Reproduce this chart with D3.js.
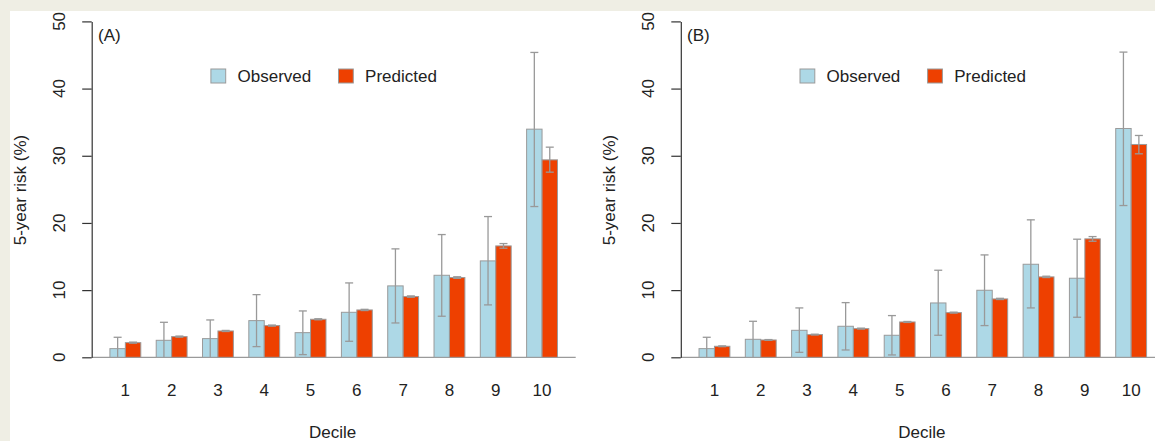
<!DOCTYPE html>
<html>
<head>
<meta charset="utf-8">
<script src="https://cdn.jsdelivr.net/npm/d3@7"></script>
<style>
  body{margin:0;background:#efeee4;}
  svg{display:block;font-family:"Liberation Sans",Arial,sans-serif;}
</style>
</head>
<body>
<svg id="chart" width="1155" height="441"></svg>
<script>
// deciles and risk values (%)
var deciles = ["1","2","3","4","5","6","7","8","9","10"];
var yTicks = [0,10,20,30,40,50];

var obsA   = [1.29,2.53,2.78,5.46,3.67,6.70,10.63,12.21,14.35,33.96];
var obsLoA = [0,0,0,1.59,0.40,2.38,5.11,6.11,7.80,22.44];
var obsHiA = [2.98,5.21,5.56,9.33,6.90,11.07,16.14,18.27,20.95,45.38];
var predA   = [2.18,3.08,3.92,4.72,5.66,7.05,9.04,11.87,16.58,29.39];
var predLoA = [2.10,3.00,3.84,4.64,5.58,6.96,8.94,11.75,16.24,27.56];
var predHiA = [2.26,3.16,4.00,4.80,5.74,7.14,9.14,11.99,16.93,31.28];

var obsB   = [1.29,2.68,4.02,4.62,3.28,8.09,9.98,13.85,11.77,34.06];
var obsLoB = [0,0,0.74,1.09,0.35,3.28,4.72,7.35,5.96,22.59];
var obsHiB = [2.98,5.36,7.35,8.14,6.21,12.96,15.24,20.46,17.58,45.43];
var predB   = [1.64,2.58,3.38,4.27,5.26,6.65,8.69,11.97,17.63,31.68];
var predLoB = [1.58,2.52,3.32,4.20,5.19,6.58,8.60,11.87,17.28,30.29];
var predHiB = [1.70,2.64,3.44,4.34,5.33,6.72,8.78,12.07,17.97,33.02];

var series = ["Observed","Predicted"];
var colors = {Observed:"#add8e6", Predicted:"#ee4000"};

var svg = d3.select("#chart");
svg.append("rect").attr("x",10).attr("y",11).attr("width",1145).attr("height",430).attr("fill","#fff");

var y = d3.scaleLinear().domain([0,50]).range([357.3,21.4]);

function drawPanel(axisX, label, obs, obsLo, obsHi, pred, predLo, predHi){
  var g = svg.append("g");
  var x = d3.scaleBand().domain(deciles).range([axisX+10.5, axisX+473.5])
    .paddingInner(1/3).paddingOuter(1/6);
  var xs = d3.scaleBand().domain(series).range([0, x.bandwidth()]);

  var rows = deciles.map(function(d,i){
    return [
      {dec:d, s:"Observed", v:obs[i], lo:obsLo[i], hi:obsHi[i]},
      {dec:d, s:"Predicted", v:pred[i], lo:predLo[i], hi:predHi[i]}
    ];
  });
  var flat = [].concat.apply([], rows);

  // baseline
  g.append("line").attr("x1",axisX).attr("x2",axisX+484)
    .attr("y1",y(0)).attr("y2",y(0)).attr("stroke","#9a9a9a").attr("stroke-width",1.2);

  g.selectAll("rect.bar").data(flat).enter().append("rect")
    .attr("class","bar")
    .attr("x",function(d){return x(d.dec)+xs(d.s);})
    .attr("width",xs.bandwidth())
    .attr("y",function(d){return y(d.v);})
    .attr("height",function(d){return y(0)-y(d.v);})
    .attr("fill",function(d){return colors[d.s];})
    .attr("stroke","#9a9a9a").attr("stroke-width",1);

  // error bars
  var eb = g.selectAll("g.err").data(flat).enter().append("g").attr("class","err")
    .attr("stroke","#999").attr("stroke-width",1.3);
  var cx = function(d){return x(d.dec)+xs(d.s)+xs.bandwidth()/2;};
  eb.append("line").attr("x1",cx).attr("x2",cx)
    .attr("y1",function(d){return y(d.lo);}).attr("y2",function(d){return y(d.hi);});
  eb.append("line").attr("x1",function(d){return cx(d)-4;}).attr("x2",function(d){return cx(d)+4;})
    .attr("y1",function(d){return y(d.hi);}).attr("y2",function(d){return y(d.hi);});
  eb.filter(function(d){return d.lo>0;}).append("line")
    .attr("x1",function(d){return cx(d)-4;}).attr("x2",function(d){return cx(d)+4;})
    .attr("y1",function(d){return y(d.lo);}).attr("y2",function(d){return y(d.lo);});

  // y axis
  var ax = g.append("g").attr("transform","translate("+axisX+",0)")
    .call(d3.axisLeft(y).tickValues(yTicks).tickSize(9.5).tickSizeOuter(0));
  ax.select(".domain").attr("stroke","#333").attr("stroke-width",1.2);
  ax.selectAll(".tick line").attr("stroke","#333").attr("stroke-width",1.2);
  ax.selectAll(".tick text").remove();
  g.selectAll("text.ytick").data(yTicks).enter().append("text")
    .attr("class","ytick")
    .attr("transform",function(d){return "translate("+(axisX-32.5)+","+y(d)+") rotate(-90)";})
    .attr("text-anchor","middle").attr("dy","0.35em")
    .attr("font-size",17).attr("fill","#222").text(function(d){return d;});

  // decile labels
  g.selectAll("text.xtick").data(deciles).enter().append("text")
    .attr("class","xtick")
    .attr("x",function(d){return x(d)+x.bandwidth()/2;}).attr("y",390)
    .attr("dy","0.35em").attr("text-anchor","middle")
    .attr("font-size",17).attr("fill","#222").text(function(d){return d;});

  g.append("text").attr("x",axisX+241).attr("y",432).attr("dy","0.35em")
    .attr("text-anchor","middle").attr("font-size",17).attr("fill","#222").text("Decile");

  g.append("text")
    .attr("transform","translate("+(axisX-71.4)+",190) rotate(-90)")
    .attr("text-anchor","middle").attr("dy","0.35em")
    .attr("font-size",17).attr("fill","#222").text("5-year risk (%)");

  g.append("text").attr("x",axisX+6.3).attr("y",35).attr("dy","0.35em")
    .attr("font-size",17).attr("fill","#222").text(label);

  // legend
  var lx = [axisX+119.2, axisX+246.8];
  var lg = g.selectAll("g.leg").data(series).enter().append("g").attr("class","leg")
    .attr("transform",function(d,i){return "translate("+lx[i]+",69)";});
  lg.append("rect").attr("width",14.8).attr("height",14)
    .attr("fill",function(d){return colors[d];}).attr("stroke","#9a9a9a");
  lg.append("text").attr("x",26.6).attr("y",7.5).attr("dy","0.35em")
    .attr("font-size",17).attr("fill","#222").text(function(d){return d;});
}

drawPanel(91.7, "(A)", obsA, obsLoA, obsHiA, predA, predLoA, predHiA);
drawPanel(680.8, "(B)", obsB, obsLoB, obsHiB, predB, predLoB, predHiB);
</script>
</body>
</html>
